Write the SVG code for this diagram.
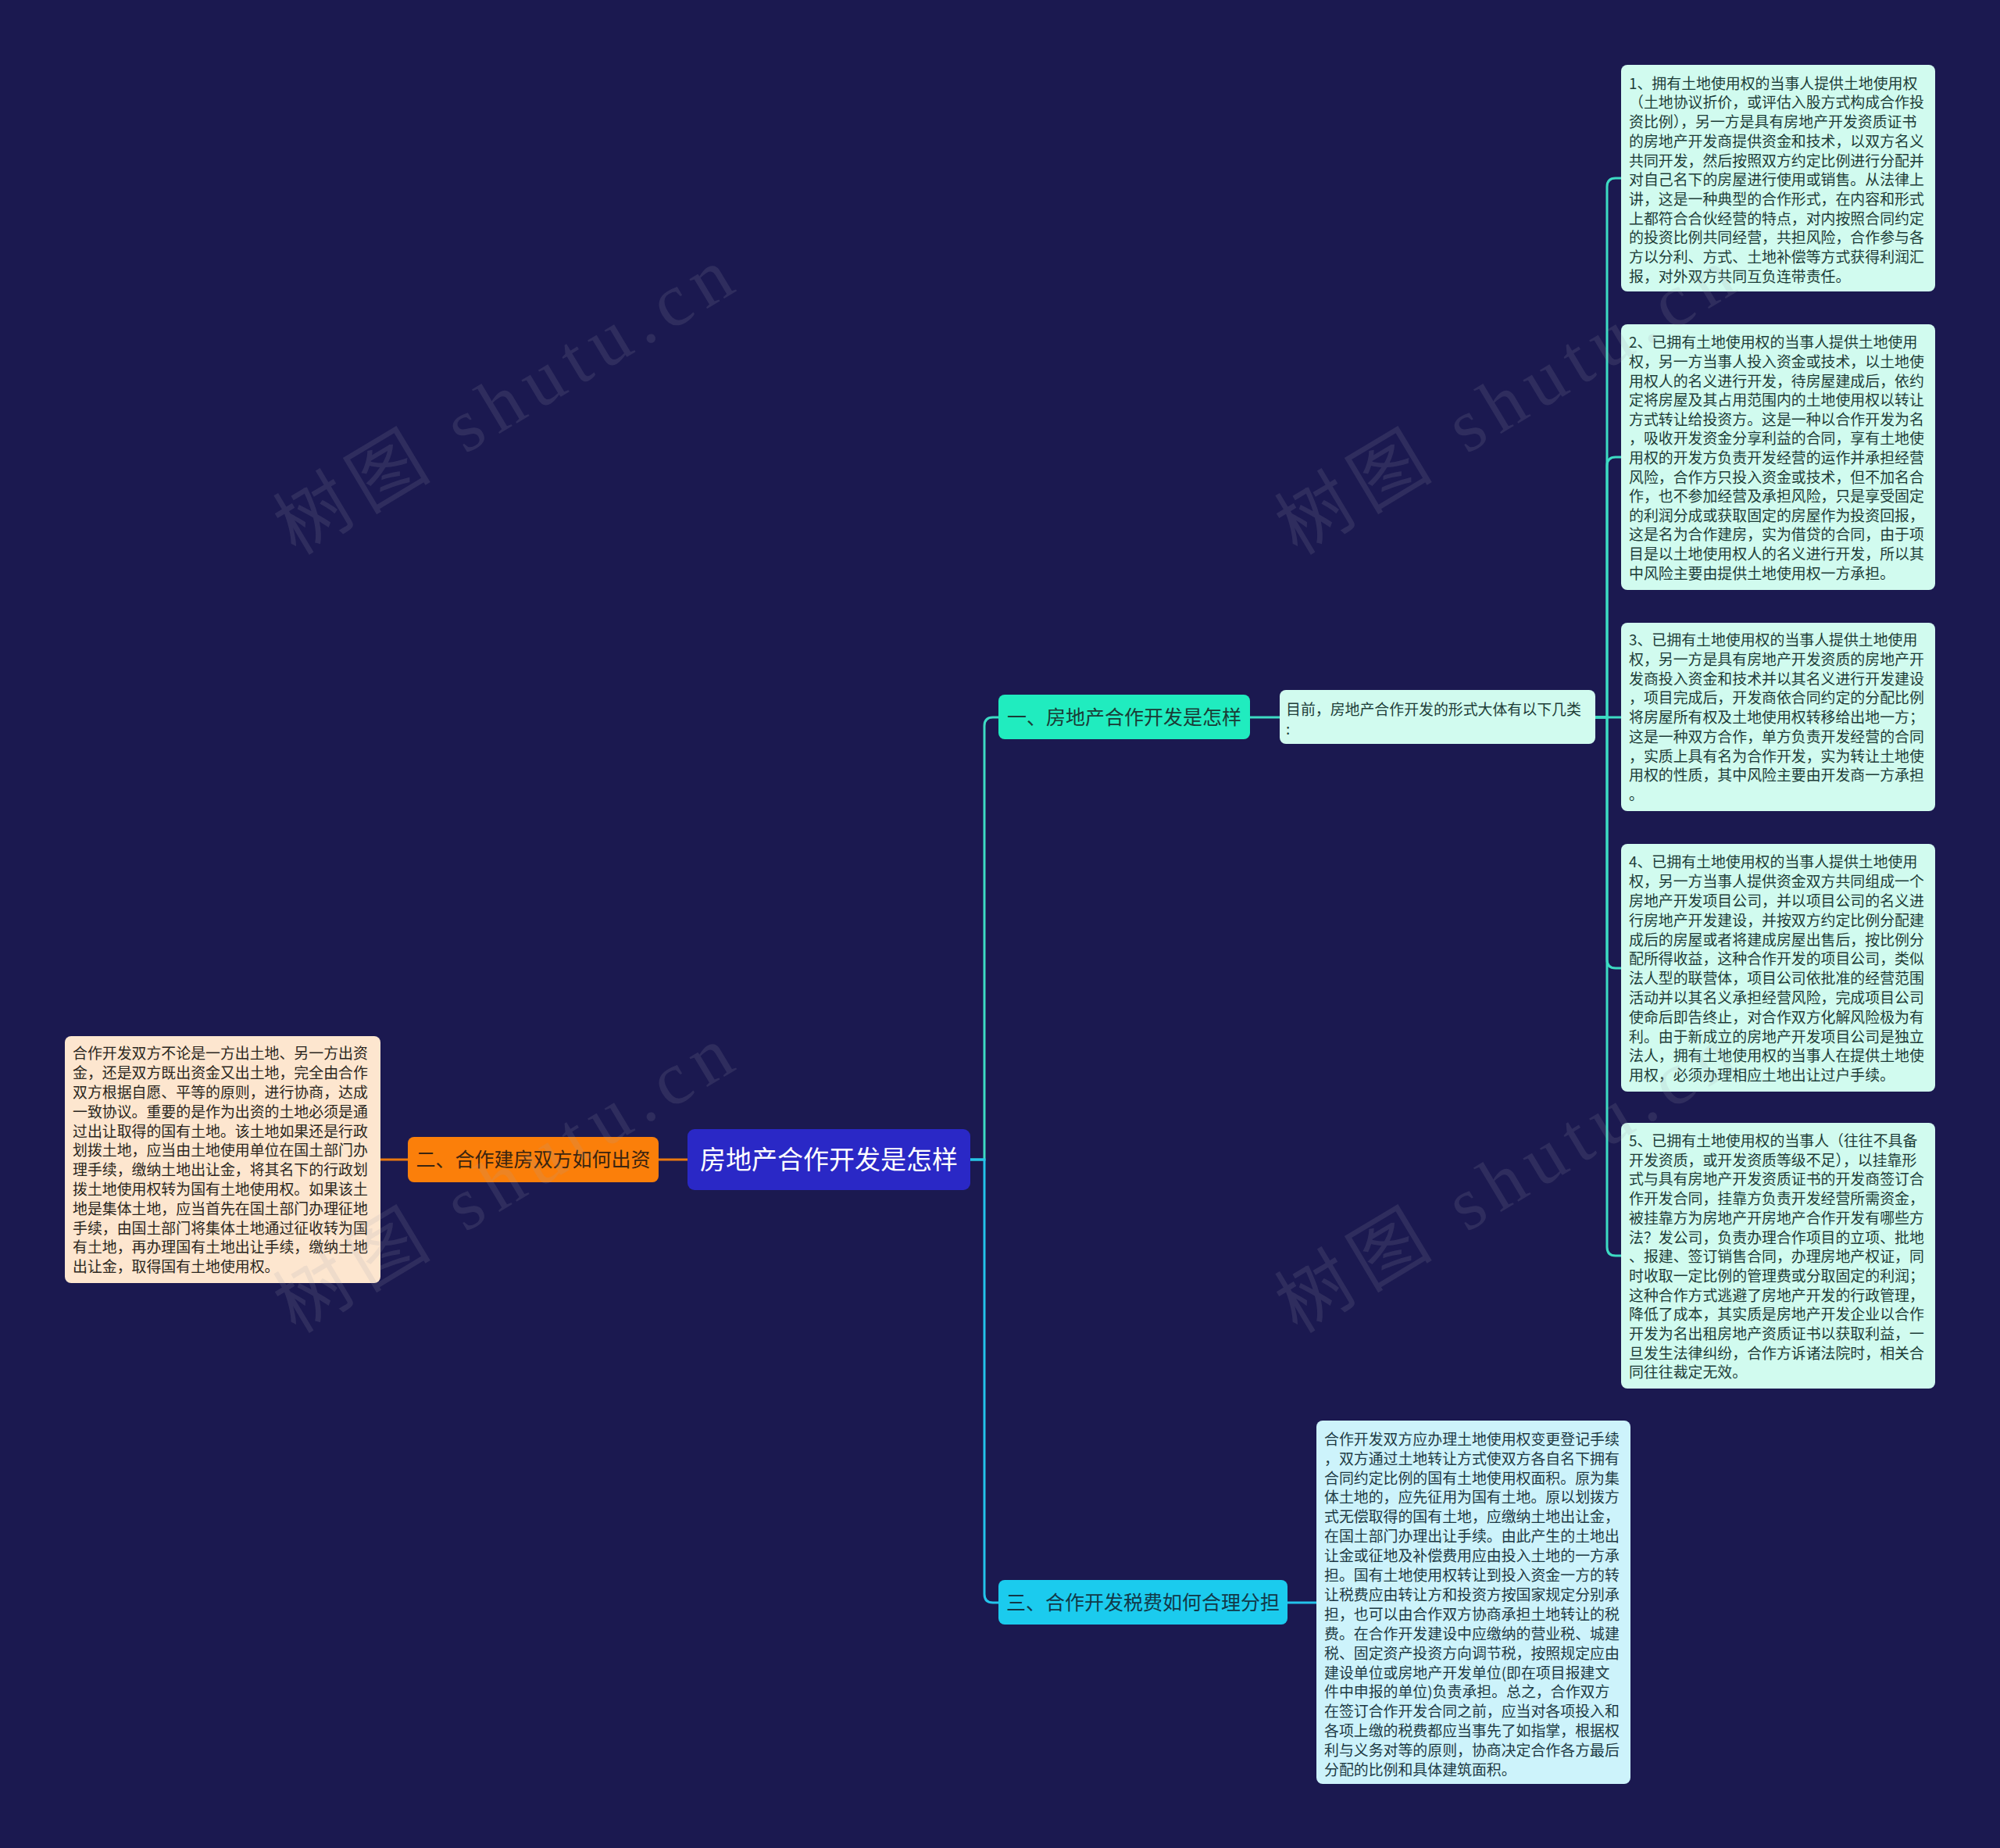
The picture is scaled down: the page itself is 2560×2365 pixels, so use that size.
<svg xmlns="http://www.w3.org/2000/svg" width="2560" height="2365" viewBox="0 0 2560 2365">
<defs>
<style>
.t{font-family:"Noto Sans CJK SC","Noto Sans",sans-serif;}
.body{font-size:18.9px;}
.mint{fill:#d1fbef;}
.mtxt{fill:#1d3d38;}
.lteal{stroke:#3ddbc3;stroke-width:3;fill:none;}
.lcyan{stroke:#24c3ea;stroke-width:3;fill:none;}
.lorange{stroke:#e9780f;stroke-width:3;fill:none;}
.wm{font-family:"Liberation Serif","Noto Sans CJK SC",serif;font-size:96px;fill:#a0a0b0;opacity:0.15;}
</style>
</defs>
<rect x="0" y="0" width="2560" height="2365" fill="#1b1950"/>

<g id="connectors">
<path class="lorange" d="M487,1484 H522"/>
<path class="lorange" d="M843,1484 H880"/>
<path class="lteal" d="M1241,1484 H1260 V929 Q1260,918 1271,918 H1278"/>
<path class="lteal" d="M1600,918 H1638"/>
<path class="lteal" d="M2042,918 H2057 V239 Q2057,228 2068,228 H2075"/>
<path class="lteal" d="M2042,918 H2057 V596 Q2057,585 2068,585 H2075"/>
<path class="lteal" d="M2042,918 H2075"/>
<path class="lteal" d="M2042,918 H2057 V1228 Q2057,1239 2068,1239 H2075"/>
<path class="lteal" d="M2042,918 H2057 V1596 Q2057,1607 2068,1607 H2075"/>
<path class="lcyan" d="M1241,1484 H1260 V2040 Q1260,2051 1271,2051 H1278"/>
<path class="lcyan" d="M1648,2051 H1685"/>
</g>

<g id="root">
<rect x="880" y="1445" width="362" height="78" rx="9" fill="#2a28c6"/>
<text class="t" x="1061" y="1496" text-anchor="middle" font-size="33" fill="#ffffff">房地产合作开发是怎样</text>
</g>

<g id="n2">
<rect x="522" y="1455" width="321" height="58" rx="8" fill="#fb7f0a"/>
<text class="t" x="682.5" y="1493" text-anchor="middle" font-size="25" fill="#3a2410">二、合作建房双方如何出资</text>
</g>

<g id="n2a">
<rect x="83" y="1326" width="404" height="316" rx="8" fill="#fde6cf"/>
<text class="t body" fill="#2b2620" x="93" y="1355.3">
<tspan x="93">合作开发双方不论是一方出土地、另一方出资</tspan>
<tspan x="93" dy="24.8">金，还是双方既出资金又出土地，完全由合作</tspan>
<tspan x="93" dy="24.8">双方根据自愿、平等的原则，进行协商，达成</tspan>
<tspan x="93" dy="24.8">一致协议。重要的是作为出资的土地必须是通</tspan>
<tspan x="93" dy="24.8">过出让取得的国有土地。该土地如果还是行政</tspan>
<tspan x="93" dy="24.8">划拨土地，应当由土地使用单位在国土部门办</tspan>
<tspan x="93" dy="24.8">理手续，缴纳土地出让金，将其名下的行政划</tspan>
<tspan x="93" dy="24.8">拨土地使用权转为国有土地使用权。如果该土</tspan>
<tspan x="93" dy="24.8">地是集体土地，应当首先在国土部门办理征地</tspan>
<tspan x="93" dy="24.8">手续，由国土部门将集体土地通过征收转为国</tspan>
<tspan x="93" dy="24.8">有土地，再办理国有土地出让手续，缴纳土地</tspan>
<tspan x="93" dy="24.8">出让金，取得国有土地使用权。</tspan>
</text>
</g>

<g id="n1">
<rect x="1278" y="889" width="322" height="57" rx="8" fill="#20ecbf"/>
<text class="t" x="1439" y="927" text-anchor="middle" font-size="25" fill="#1a3b36">一、房地产合作开发是怎样</text>
</g>

<g id="n1a">
<rect x="1638" y="883" width="404" height="69" rx="8" class="mint"/>
<text class="t body mtxt" x="1646" y="915">
<tspan x="1646">目前，房地产合作开发的形式大体有以下几类</tspan>
<tspan x="1646" dy="25">:</tspan>
</text>
</g>

<g id="b1">
<rect x="2075" y="83" width="402" height="290" rx="8" class="mint"/>
<text class="t body mtxt" x="2085" y="113.7">
<tspan x="2085">1、拥有土地使用权的当事人提供土地使用权</tspan>
<tspan x="2085" dy="24.7">（土地协议折价，或评估入股方式构成合作投</tspan>
<tspan x="2085" dy="24.7">资比例），另一方是具有房地产开发资质证书</tspan>
<tspan x="2085" dy="24.7">的房地产开发商提供资金和技术，以双方名义</tspan>
<tspan x="2085" dy="24.7">共同开发，然后按照双方约定比例进行分配并</tspan>
<tspan x="2085" dy="24.7">对自己名下的房屋进行使用或销售。从法律上</tspan>
<tspan x="2085" dy="24.7">讲，这是一种典型的合作形式，在内容和形式</tspan>
<tspan x="2085" dy="24.7">上都符合合伙经营的特点，对内按照合同约定</tspan>
<tspan x="2085" dy="24.7">的投资比例共同经营，共担风险，合作参与各</tspan>
<tspan x="2085" dy="24.7">方以分利、方式、土地补偿等方式获得利润汇</tspan>
<tspan x="2085" dy="24.7">报，对外双方共同互负连带责任。</tspan>
</text>
</g>

<g id="b2">
<rect x="2075" y="415" width="402" height="340" rx="8" class="mint"/>
<text class="t body mtxt" x="2085" y="445.3">
<tspan x="2085">2、已拥有土地使用权的当事人提供土地使用</tspan>
<tspan x="2085" dy="24.6">权，另一方当事人投入资金或技术，以土地使</tspan>
<tspan x="2085" dy="24.6">用权人的名义进行开发，待房屋建成后，依约</tspan>
<tspan x="2085" dy="24.6">定将房屋及其占用范围内的土地使用权以转让</tspan>
<tspan x="2085" dy="24.6">方式转让给投资方。这是一种以合作开发为名</tspan>
<tspan x="2085" dy="24.6">，吸收开发资金分享利益的合同，享有土地使</tspan>
<tspan x="2085" dy="24.6">用权的开发方负责开发经营的运作并承担经营</tspan>
<tspan x="2085" dy="24.6">风险，合作方只投入资金或技术，但不加名合</tspan>
<tspan x="2085" dy="24.6">作，也不参加经营及承担风险，只是享受固定</tspan>
<tspan x="2085" dy="24.6">的利润分成或获取固定的房屋作为投资回报，</tspan>
<tspan x="2085" dy="24.6">这是名为合作建房，实为借贷的合同，由于项</tspan>
<tspan x="2085" dy="24.6">目是以土地使用权人的名义进行开发，所以其</tspan>
<tspan x="2085" dy="24.6">中风险主要由提供土地使用权一方承担。</tspan>
</text>
</g>

<g id="b3">
<rect x="2075" y="797" width="402" height="241" rx="8" class="mint"/>
<text class="t body mtxt" x="2085" y="826.3">
<tspan x="2085">3、已拥有土地使用权的当事人提供土地使用</tspan>
<tspan x="2085" dy="24.7">权，另一方是具有房地产开发资质的房地产开</tspan>
<tspan x="2085" dy="24.7">发商投入资金和技术并以其名义进行开发建设</tspan>
<tspan x="2085" dy="24.7">，项目完成后，开发商依合同约定的分配比例</tspan>
<tspan x="2085" dy="24.7">将房屋所有权及土地使用权转移给出地一方；</tspan>
<tspan x="2085" dy="24.7">这是一种双方合作，单方负责开发经营的合同</tspan>
<tspan x="2085" dy="24.7">，实质上具有名为合作开发，实为转让土地使</tspan>
<tspan x="2085" dy="24.7">用权的性质，其中风险主要由开发商一方承担</tspan>
<tspan x="2085" dy="24.7">。</tspan>
</text>
</g>

<g id="b4">
<rect x="2075" y="1080" width="402" height="317" rx="8" class="mint"/>
<text class="t body mtxt" x="2085" y="1110.3">
<tspan x="2085">4、已拥有土地使用权的当事人提供土地使用</tspan>
<tspan x="2085" dy="24.8">权，另一方当事人提供资金双方共同组成一个</tspan>
<tspan x="2085" dy="24.8">房地产开发项目公司，并以项目公司的名义进</tspan>
<tspan x="2085" dy="24.8">行房地产开发建设，并按双方约定比例分配建</tspan>
<tspan x="2085" dy="24.8">成后的房屋或者将建成房屋出售后，按比例分</tspan>
<tspan x="2085" dy="24.8">配所得收益，这种合作开发的项目公司，类似</tspan>
<tspan x="2085" dy="24.8">法人型的联营体，项目公司依批准的经营范围</tspan>
<tspan x="2085" dy="24.8">活动并以其名义承担经营风险，完成项目公司</tspan>
<tspan x="2085" dy="24.8">使命后即告终止，对合作双方化解风险极为有</tspan>
<tspan x="2085" dy="24.8">利。由于新成立的房地产开发项目公司是独立</tspan>
<tspan x="2085" dy="24.8">法人，拥有土地使用权的当事人在提供土地使</tspan>
<tspan x="2085" dy="24.8">用权，必须办理相应土地出让过户手续。</tspan>
</text>
</g>

<g id="b5">
<rect x="2075" y="1437" width="402" height="340" rx="8" class="mint"/>
<text class="t body mtxt" x="2085" y="1467">
<tspan x="2085">5、已拥有土地使用权的当事人（往往不具备</tspan>
<tspan x="2085" dy="24.7">开发资质，或开发资质等级不足），以挂靠形</tspan>
<tspan x="2085" dy="24.7">式与具有房地产开发资质证书的开发商签订合</tspan>
<tspan x="2085" dy="24.7">作开发合同，挂靠方负责开发经营所需资金，</tspan>
<tspan x="2085" dy="24.7">被挂靠方为房地产开房地产合作开发有哪些方</tspan>
<tspan x="2085" dy="24.7">法？发公司，负责办理合作项目的立项、批地</tspan>
<tspan x="2085" dy="24.7">、报建、签订销售合同，办理房地产权证，同</tspan>
<tspan x="2085" dy="24.7">时收取一定比例的管理费或分取固定的利润；</tspan>
<tspan x="2085" dy="24.7">这种合作方式逃避了房地产开发的行政管理，</tspan>
<tspan x="2085" dy="24.7">降低了成本，其实质是房地产开发企业以合作</tspan>
<tspan x="2085" dy="24.7">开发为名出租房地产资质证书以获取利益，一</tspan>
<tspan x="2085" dy="24.7">旦发生法律纠纷，合作方诉诸法院时，相关合</tspan>
<tspan x="2085" dy="24.7">同往往裁定无效。</tspan>
</text>
</g>

<g id="n3">
<rect x="1278" y="2022" width="370" height="57" rx="8" fill="#1bcbee"/>
<text class="t" x="1463" y="2060" text-anchor="middle" font-size="25" fill="#123848">三、合作开发税费如何合理分担</text>
</g>

<g id="n3a">
<rect x="1685" y="1818" width="402" height="465" rx="8" fill="#cdf3fb"/>
<text class="t body" fill="#1d3a44" x="1695" y="1848.7">
<tspan x="1695">合作开发双方应办理土地使用权变更登记手续</tspan>
<tspan x="1695" dy="24.9">，双方通过土地转让方式使双方各自名下拥有</tspan>
<tspan x="1695" dy="24.9">合同约定比例的国有土地使用权面积。原为集</tspan>
<tspan x="1695" dy="24.9">体土地的，应先征用为国有土地。原以划拨方</tspan>
<tspan x="1695" dy="24.9">式无偿取得的国有土地，应缴纳土地出让金，</tspan>
<tspan x="1695" dy="24.9">在国土部门办理出让手续。由此产生的土地出</tspan>
<tspan x="1695" dy="24.9">让金或征地及补偿费用应由投入土地的一方承</tspan>
<tspan x="1695" dy="24.9">担。国有土地使用权转让到投入资金一方的转</tspan>
<tspan x="1695" dy="24.9">让税费应由转让方和投资方按国家规定分别承</tspan>
<tspan x="1695" dy="24.9">担，也可以由合作双方协商承担土地转让的税</tspan>
<tspan x="1695" dy="24.9">费。在合作开发建设中应缴纳的营业税、城建</tspan>
<tspan x="1695" dy="24.9">税、固定资产投资方向调节税，按照规定应由</tspan>
<tspan x="1695" dy="24.9">建设单位或房地产开发单位(即在项目报建文</tspan>
<tspan x="1695" dy="24.9">件中申报的单位)负责承担。总之，合作双方</tspan>
<tspan x="1695" dy="24.9">在签订合作开发合同之前，应当对各项投入和</tspan>
<tspan x="1695" dy="24.9">各项上缴的税费都应当事先了如指掌，根据权</tspan>
<tspan x="1695" dy="24.9">利与义务对等的原则，协商决定合作各方最后</tspan>
<tspan x="1695" dy="24.9">分配的比例和具体建筑面积。</tspan>
</text>
</g>

<g id="watermark">
<text class="wm" transform="translate(645,514) rotate(-31)" x="0" y="32" text-anchor="middle" textLength="660" lengthAdjust="spacing">树图 shutu.cn</text>
<text class="wm" transform="translate(645,1510) rotate(-31)" x="0" y="32" text-anchor="middle" textLength="660" lengthAdjust="spacing">树图 shutu.cn</text>
<text class="wm" transform="translate(1927,514) rotate(-31)" x="0" y="32" text-anchor="middle" textLength="660" lengthAdjust="spacing">树图 shutu.cn</text>
<text class="wm" transform="translate(1927,1510) rotate(-31)" x="0" y="32" text-anchor="middle" textLength="660" lengthAdjust="spacing">树图 shutu.cn</text>
</g>
</svg>
